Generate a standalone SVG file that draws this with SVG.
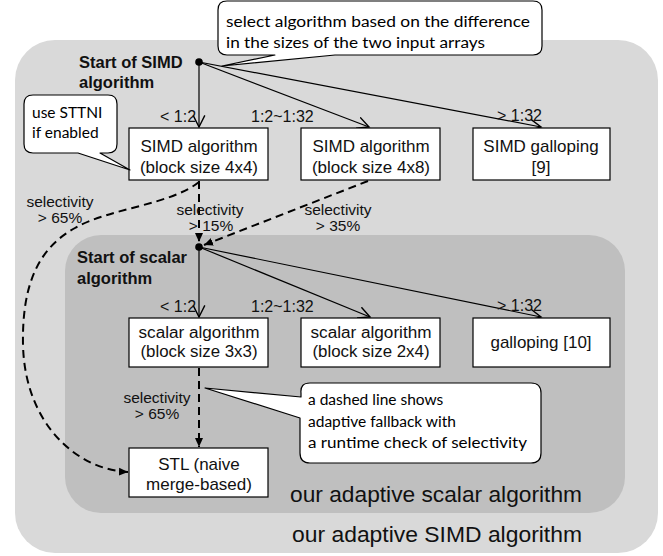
<svg xmlns="http://www.w3.org/2000/svg" width="663" height="556" viewBox="0 0 663 556">
<style>
.box{fill:#fff;stroke:#000;stroke-width:1.2}
.bt{font-family:"Liberation Sans",Arial,sans-serif;font-size:17px;text-anchor:middle;fill:#111}
.bt2{font-family:"Liberation Sans",Arial,sans-serif;font-size:16px;text-anchor:middle;fill:#111}
.sm{font-family:"Liberation Sans",Arial,sans-serif;font-size:16px;fill:#111}
.sel{font-family:"Liberation Sans",Arial,sans-serif;font-size:15.5px;text-anchor:middle;fill:#111}
.bold{font-family:"Liberation Sans",Arial,sans-serif;font-size:16.5px;font-weight:bold;fill:#111}
.big{font-family:"Liberation Sans",Arial,sans-serif;font-size:22px;fill:#111}
.call{fill:#fff;stroke:#000;stroke-width:1.2;stroke-linejoin:round}
.ct{font-family:Lato,"Open Sans",sans-serif;font-size:15.5px;fill:#000}
.solid{fill:none;stroke:#000;stroke-width:1.2;marker-end:url(#open)}
.dash{fill:none;stroke:#000;stroke-width:2;stroke-dasharray:8 5;marker-end:url(#fill)}
</style>
<defs>
<marker id="open" markerUnits="userSpaceOnUse" markerWidth="14" markerHeight="14" refX="10" refY="6" orient="auto" viewBox="0 0 12 12">
<path d="M0,1 L10,6 L0,11" fill="none" stroke="#000" stroke-width="1.2"/>
</marker>
<marker id="fill" markerUnits="userSpaceOnUse" markerWidth="10" markerHeight="10" refX="9" refY="4" orient="auto" viewBox="0 0 10 8">
<path d="M0,0 L9,4 L0,8 Z" fill="#000"/>
</marker>
</defs>

<g id="outer-region">
<rect x="15" y="40" width="643" height="513" rx="40" fill="#d9d9d9"/>
<text class="big" x="292" y="542" textLength="290" lengthAdjust="spacingAndGlyphs">our adaptive SIMD algorithm</text>
</g>
<g id="inner-region">
<rect x="65" y="235" width="560" height="278" rx="36" fill="#bfbfbf"/>
<text class="big" x="290" y="502" textLength="292" lengthAdjust="spacingAndGlyphs">our adaptive scalar algorithm</text>
</g>

<g id="connectors">
<path class="solid" d="M199,62 L199,127"/>
<path class="solid" d="M199,62 L369,127"/>
<path class="solid" d="M199,62 L541,127"/>
<path class="solid" d="M199,247 L199,317"/>
<path class="solid" d="M199,247 L370,317"/>
<path class="solid" d="M199,247 L541,317"/>
<path class="dash" d="M199,181 L199,242"/>
<path class="dash" d="M368,181 L204,245"/>
<path class="dash" d="M199,182 C170,205 110,208 75,228 C35,250 22,290 23,345 C25,425 78,470 128,472"/>
<path class="dash" d="M199,368 L199,447"/>
</g>

<g id="labels">
<text class="sm" x="160" y="122">&lt; 1:2</text>
<text class="sm" x="251" y="122">1:2~1:32</text>
<text class="sm" x="497" y="121">&gt; 1:32</text>
<text class="sm" x="160" y="312">&lt; 1:2</text>
<text class="sm" x="251" y="312">1:2~1:32</text>
<text class="sm" x="497" y="311">&gt; 1:32</text>
<text class="sel" x="60" y="207">selectivity</text>
<text class="sel" x="60" y="223">&gt; 65%</text>
<text class="sel" x="210" y="215">selectivity</text>
<text class="sel" x="211" y="231">&gt; 15%</text>
<text class="sel" x="338" y="215">selectivity</text>
<text class="sel" x="338" y="231">&gt; 35%</text>
<text class="sel" x="157" y="403">selectivity</text>
<text class="sel" x="157" y="419">&gt; 65%</text>
</g>

<g id="start-simd">
<circle cx="199" cy="62" r="3.8" fill="#000"/>
<text class="bold" x="79" y="68">Start of SIMD</text>
<text class="bold" x="79" y="88">algorithm</text>
</g>
<g id="start-scalar">
<circle cx="199" cy="247" r="3.8" fill="#000"/>
<text class="bold" x="77" y="263">Start of scalar</text>
<text class="bold" x="77" y="284">algorithm</text>
</g>

<g id="simd-4x4">
<rect class="box" x="129" y="128" width="139" height="52"/>
<text class="bt" x="199" y="152">SIMD algorithm</text>
<text class="bt" x="199" y="173">(block size 4x4)</text>
</g>
<g id="simd-4x8">
<rect class="box" x="301" y="128" width="139" height="52"/>
<text class="bt" x="371" y="152">SIMD algorithm</text>
<text class="bt" x="371" y="173">(block size 4x8)</text>
</g>
<g id="simd-galloping">
<rect class="box" x="473" y="128" width="137" height="52"/>
<text class="bt" x="541" y="152">SIMD galloping</text>
<text class="bt" x="541" y="173">[9]</text>
</g>
<g id="scalar-3x3">
<rect class="box" x="129" y="318" width="139" height="49"/>
<text class="bt2" x="199" y="338" textLength="121" lengthAdjust="spacingAndGlyphs">scalar algorithm</text>
<text class="bt2" x="199" y="357" textLength="117" lengthAdjust="spacingAndGlyphs">(block size 3x3)</text>
</g>
<g id="scalar-2x4">
<rect class="box" x="301" y="318" width="139" height="49"/>
<text class="bt2" x="371" y="338" textLength="121" lengthAdjust="spacingAndGlyphs">scalar algorithm</text>
<text class="bt2" x="371" y="357" textLength="117" lengthAdjust="spacingAndGlyphs">(block size 2x4)</text>
</g>
<g id="galloping">
<rect class="box" x="473" y="318" width="137" height="49"/>
<text class="bt" x="541" y="348">galloping [10]</text>
</g>
<g id="stl">
<rect class="box" x="129" y="448" width="139" height="49"/>
<text class="bt" x="199" y="470">STL (naive</text>
<text class="bt" x="199" y="490">merge-based)</text>
</g>

<g id="callout-select">
<path class="call" d="M227,1 H533 Q542,1 542,10 V46 Q542,55 533,55 H335 L222,66 L275,55 H227 Q218,55 218,46 V10 Q218,1 227,1 Z"/>
<text class="ct" x="226" y="27" textLength="304" lengthAdjust="spacingAndGlyphs">select algorithm based on the difference</text>
<text class="ct" x="226" y="48" textLength="259" lengthAdjust="spacingAndGlyphs">in the sizes of the two input arrays</text>
</g>
<g id="callout-sttni">
<path class="call" d="M33,95 H108 Q117,95 117,104 V144 Q117,153 108,153 H100 L130,170 L78,153 H33 Q24,153 24,144 V104 Q24,95 33,95 Z"/>
<text class="ct" x="32" y="118">use STTNI</text>
<text class="ct" x="32" y="138">if enabled</text>
</g>
<g id="callout-dashed">
<path class="call" d="M310,383 H531 Q541,383 541,393 V453 Q541,463 531,463 H310 Q300,463 300,453 V418 L205,388 L301,397 V393 Q300,383 310,383 Z"/>
<text class="ct" x="308" y="405">a dashed line shows</text>
<text class="ct" x="308" y="427">adaptive fallback with</text>
<text class="ct" x="308" y="448" textLength="219" lengthAdjust="spacingAndGlyphs">a runtime check of selectivity</text>
</g>
</svg>
